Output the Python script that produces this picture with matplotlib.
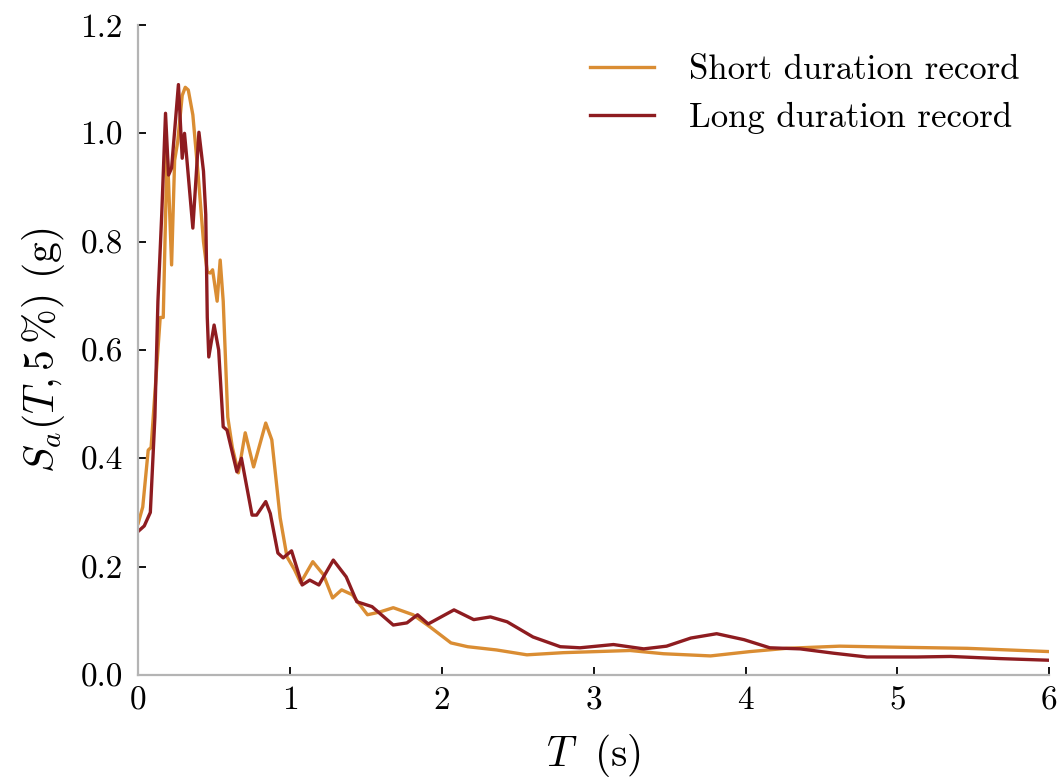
import matplotlib
matplotlib.use("Agg")
import matplotlib.pyplot as plt

# values
t_short = [0.0, 0.03, 0.066, 0.085, 0.145, 0.165, 0.19, 0.2, 0.22, 0.24, 0.26, 0.29,
           0.31, 0.33, 0.36, 0.395, 0.43, 0.455, 0.475, 0.49, 0.52, 0.54, 0.56, 0.59,
           0.62, 0.66, 0.705, 0.76, 0.84, 0.88, 0.935, 0.98, 1.03, 1.07, 1.15, 1.22,
           1.28, 1.34, 1.41, 1.51, 1.59, 1.68, 1.81, 1.92, 2.06, 2.17, 2.36, 2.56,
           2.80, 3.02, 3.24, 3.46, 3.77, 4.03, 4.27, 4.62, 5.02, 5.46, 6.0]
sa_short = [0.28, 0.31, 0.415, 0.42, 0.66, 0.66, 0.965, 0.91, 0.757, 0.95, 0.984, 1.07,
            1.085, 1.08, 1.034, 0.923, 0.80, 0.744, 0.742, 0.748, 0.69, 0.766, 0.69, 0.476,
            0.42, 0.373, 0.447, 0.384, 0.465, 0.434, 0.29, 0.218, 0.194, 0.17, 0.209, 0.185,
            0.142, 0.157, 0.148, 0.111, 0.116, 0.124, 0.111, 0.089, 0.059, 0.052, 0.046, 0.037,
            0.041, 0.043, 0.045, 0.039, 0.035, 0.043, 0.049, 0.053, 0.051, 0.049, 0.043]

t_long = [0.0, 0.04, 0.08, 0.11, 0.13, 0.155, 0.18, 0.20, 0.22, 0.265, 0.29, 0.305,
          0.32, 0.36, 0.40, 0.43, 0.445, 0.455, 0.465, 0.50, 0.53, 0.56, 0.585, 0.65,
          0.68, 0.75, 0.78, 0.84, 0.87, 0.92, 0.955, 1.01, 1.08, 1.13, 1.19, 1.285,
          1.37, 1.44, 1.54, 1.68, 1.77, 1.84, 1.91, 2.08, 2.21, 2.32, 2.43, 2.60,
          2.78, 2.91, 3.13, 3.33, 3.48, 3.64, 3.81, 3.99, 4.16, 4.36, 4.58, 4.80,
          5.13, 5.35, 5.68, 6.0]
sa_long = [0.265, 0.275, 0.30, 0.476, 0.69, 0.85, 1.037, 0.923, 0.936, 1.09, 0.954, 1.0,
           0.954, 0.825, 1.002, 0.93, 0.85, 0.66, 0.587, 0.646, 0.60, 0.458, 0.452, 0.375,
           0.40, 0.295, 0.295, 0.32, 0.298, 0.225, 0.216, 0.229, 0.166, 0.175, 0.166, 0.212,
           0.181, 0.135, 0.126, 0.092, 0.096, 0.111, 0.094, 0.12, 0.102, 0.107, 0.098, 0.07,
           0.052, 0.05, 0.056, 0.048, 0.053, 0.068, 0.076, 0.065, 0.05, 0.048, 0.04, 0.033,
           0.033, 0.034, 0.03, 0.027]

x_ticks = [0, 1, 2, 3, 4, 5, 6]
y_ticks = [0.0, 0.2, 0.4, 0.6, 0.8, 1.0, 1.2]

plt.rcParams['font.family'] = 'cmr10'
plt.rcParams['mathtext.fontset'] = 'cm'
plt.rcParams['axes.formatter.use_mathtext'] = True

fig = plt.figure(figsize=(10.63, 7.82), dpi=100)
ax = fig.add_axes([0.130, 0.137, 0.857, 0.831])

ax.plot(t_short, sa_short, color='#da8d33', lw=2.4, label='Short duration record',
        solid_joinstyle='round')
ax.plot(t_long, sa_long, color='#8e1c20', lw=2.4, label='Long duration record',
        solid_joinstyle='round')

ax.set_xlim(0, 6)
ax.set_ylim(0, 1.2)
ax.set_xticks(x_ticks)
ax.set_yticks(y_ticks)
ax.set_xticklabels([str(v) for v in x_ticks])
ax.set_yticklabels([f'{v:.1f}' for v in y_ticks])

for side in ['top', 'right']:
    ax.spines[side].set_visible(False)
for side in ['left', 'bottom']:
    ax.spines[side].set_color('#b4b4b4')
    ax.spines[side].set_linewidth(1.6)

ax.tick_params(direction='in', length=6, width=1.3, color='black', labelsize=24)
ax.tick_params(axis='y', pad=11)
ax.tick_params(axis='x', pad=8)

ax.set_xlabel(r'$T\;$ (s)', fontsize=30, labelpad=12)
ax.set_ylabel(r'$S_a(T, 5\,\%)$ (g)', fontsize=30, labelpad=10)

ax.legend(loc='upper right', frameon=False, fontsize=25, handlelength=1.85,
          handletextpad=1.0, borderaxespad=0.45, borderpad=0.4, labelspacing=0.45)

plt.savefig('out.png', dpi=100)
